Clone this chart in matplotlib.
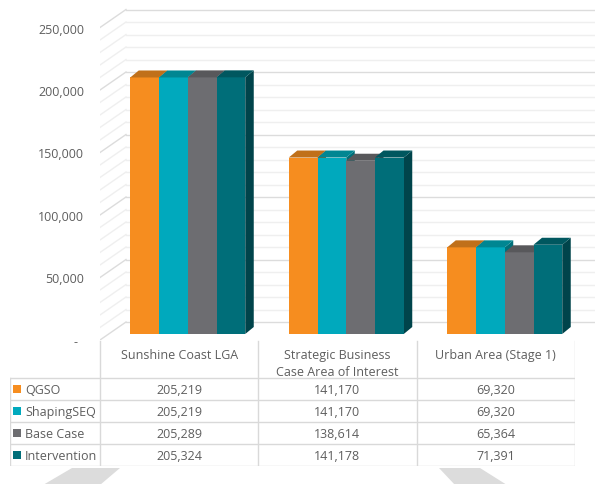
import numpy as np
import matplotlib
matplotlib.use("Agg")
import matplotlib.pyplot as plt
from matplotlib.patches import Polygon

plt.rcParams['font.family'] = ['Open Sans', 'DejaVu Sans']

# Data
categories = ['Sunshine Coast LGA', 'Strategic Business\nCase Area of Interest', 'Urban Area (Stage 1)']
series = ['QGSO', 'ShapingSEQ', 'Base Case', 'Intervention']
qgso = [205219, 141170, 69320]
shaping_seq = [205219, 141170, 69320]
base_case = [205289, 138614, 65364]
intervention = [205324, 141178, 71391]
values = [qgso, shaping_seq, base_case, intervention]

y_ticks = [0, 50000, 100000, 150000, 200000, 250000]
y_tick_labels = ['-  ' if t == 0 else f"{t:,}" for t in y_ticks]

front_colors = ['#F68D1F', '#00A9BD', '#6D6D71', '#006E79']
top_colors = ['#C0701A', '#008692', '#58585B', '#00575F']
side_colors = ['#9E5B14', '#006F79', '#48484B', '#00444B']

text_color = '#5E5E5E'
grid_minor = '#EFEFEF'
grid_major = '#DCDCDC'

W, H = 595, 485
fig = plt.figure(figsize=(W / 100, H / 100), dpi=100)

# background decoration (light grey shapes at the bottom)
bg = fig.add_axes([0, 0, 1, 1], zorder=-5)
bg.set_xlim(0, W)
bg.set_ylim(H, 0)
bg.axis('off')
bg.add_patch(Polygon([(72, 469), (120, 469), (100, 486), (43, 486)], color='#DCDCDC', lw=0))
bg.add_patch(Polygon([(439, 469), (480, 469), (507, 486), (455, 486)], color='#DCDCDC', lw=0))

# ---- chart area (2D axes faking Excel 3D columns) ----
cat_px = 158.5          # pixels per category
val_px = 62.5 / 50000   # pixels per unit value
ax_left, ax_bottom = 100, 341
ax = fig.add_axes([ax_left / W, 1 - ax_bottom / H, (W - ax_left) / W, ax_bottom / H])
x_min = -0.5
x_max = x_min + (W - ax_left) / cat_px
ax.set_xlim(x_min, x_max)
ax.set_ylim(0, ax_bottom / val_px)
for s in ax.spines.values():
    s.set_visible(False)
ax.set_xticks([])

def px_x(p):
    return p / cat_px

def px_y(p):
    return p / val_px

# wall depth
wall_dx, wall_dy = px_x(26), px_y(18)
grid_vals = np.arange(0, 250001, 10000)
for v in grid_vals:
    c = grid_major if v % 50000 == 0 else grid_minor
    ax.plot([x_min + wall_dx, x_max], [v + wall_dy, v + wall_dy], color=c, lw=1, zorder=1)
    ax.plot([x_min, x_min + wall_dx], [v, v + wall_dy], color=c, lw=1, zorder=1)

ax.set_yticks(y_ticks)
ax.set_yticklabels(y_tick_labels, color=text_color, fontsize=9)
ax.tick_params(axis='y', length=0, pad=11.5)

# bars
bar_w = px_x(28.75)
bar_dx, bar_dy = px_x(8.5), px_y(6)
top_dx, top_dy = px_x(8.5), px_y(7)
n = len(series)
cat_idx = np.arange(len(categories))
for j in range(n):
    x0 = cat_idx - n * bar_w / 2 + j * bar_w + bar_dx
    vals = np.array(values[j])
    for xi, v in zip(x0, vals):
        side = Polygon([(xi + bar_w, bar_dy), (xi + bar_w + top_dx, bar_dy + top_dy),
                        (xi + bar_w + top_dx, v + bar_dy + top_dy), (xi + bar_w, v + bar_dy)],
                       color=side_colors[j], lw=0, zorder=3 + j)
        ax.add_patch(side)
    ax.bar(x0, vals, width=bar_w, bottom=bar_dy, align='edge', color=front_colors[j],
           lw=0, zorder=3 + j)
    for xi, v in zip(x0, vals):
        top = Polygon([(xi, v + bar_dy), (xi + bar_w, v + bar_dy),
                       (xi + bar_w + top_dx, v + bar_dy + top_dy), (xi + top_dx, v + bar_dy + top_dy)],
                      color=top_colors[j], lw=0, zorder=3 + j)
        ax.add_patch(top)

# ---- data table ----
tab_left, tab_top, tab_bottom = 10, 340, 467
tax = fig.add_axes([tab_left / W, 1 - tab_bottom / H, (575 - tab_left) / W, (tab_bottom - tab_top) / H])
t_xmin = -0.5 - (100 - tab_left) / cat_px
tax.set_xlim(t_xmin, 2.5)
header_h = 1.8
n_rows = header_h + len(series)
tax.set_ylim(n_rows, 0)
tax.axis('off')

line_c = '#D9D9D9'
for r in range(len(series) + 1):
    tax.plot([t_xmin, 2.5], [header_h + r, header_h + r], color=line_c, lw=1)
tax.plot([t_xmin, t_xmin], [header_h, n_rows], color=line_c, lw=1)
for b in np.arange(len(categories) + 1) - 0.5:
    tax.plot([b, b], [0.1, n_rows], color=line_c, lw=1)

for i, cat in enumerate(categories):
    tax.text(i, 0.42, cat, ha='center', va='top', color=text_color, fontsize=9, linespacing=1.4)

for j, name in enumerate(series):
    yc = header_h + j + 0.5
    tax.scatter([t_xmin + px_x(7.5)], [yc], marker='s', s=30, color=front_colors[j], lw=0)
    tax.text(t_xmin + px_x(15), yc, name, ha='left', va='center', color=text_color, fontsize=9)
    for i in range(len(categories)):
        tax.text(i, yc, f"{values[j][i]:,}", ha='center', va='center', color=text_color, fontsize=9)

fig.savefig('out.png', dpi=100)
